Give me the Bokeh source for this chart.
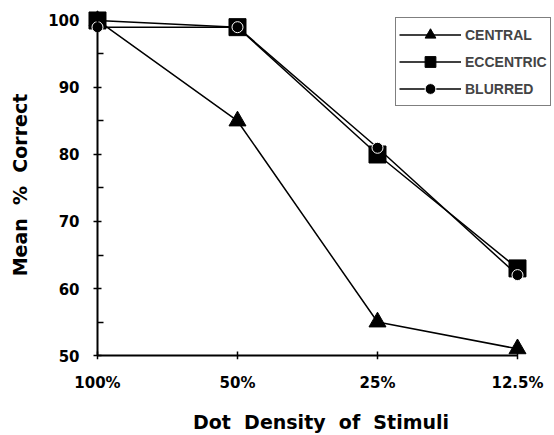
from bokeh.plotting import figure
from bokeh.models import FixedTicker, Range1d, Legend, LegendItem, LinearAxis
from bokeh.embed import file_html
from bokeh.resources import INLINE

categories = ["100%", "50%", "25%", "12.5%"]
central = [100, 85, 55, 51]
eccentric = [100, 99, 80, 63]
blurred = [99, 99, 81, 62]
y_ticks = [50, 60, 70, 80, 90, 100]
y_minor = [55, 65, 75, 85, 95]

xs = list(range(len(categories)))

p = figure(width=554, height=435, output_backend="svg", toolbar_location=None,
           x_range=Range1d(-0.0714, 3.2643), y_range=Range1d(49.405, 101.488),
           min_border_left=87, min_border_right=0, min_border_top=10, min_border_bottom=75)
p.outline_line_color = None
p.xgrid.visible = False
p.ygrid.visible = False

FONT = "DejaVu Sans"

# label-only axes on the frame edges
p.xaxis.ticker = FixedTicker(ticks=xs)
p.xaxis.major_label_overrides = {i: c for i, c in zip(xs, categories)}
p.yaxis.ticker = FixedTicker(ticks=y_ticks)
for ax in (p.xaxis[0], p.yaxis[0]):
    ax.axis_line_color = None
    ax.major_tick_line_color = None
    ax.minor_tick_line_color = None
    ax.major_tick_in = 0
    ax.major_tick_out = 0
    ax.minor_tick_in = 0
    ax.minor_tick_out = 0
    ax.major_label_text_font = FONT
    ax.major_label_text_font_style = "bold"
    ax.major_label_text_font_size = "15px"
    ax.major_label_text_color = "black"
    ax.axis_label_text_font = FONT
    ax.axis_label_text_font_style = "bold"
    ax.axis_label_text_font_size = "19px"
    ax.axis_label_text_color = "black"
p.xaxis.major_label_standoff = 14
p.yaxis.major_label_standoff = 8
p.xaxis.axis_label = "Dot\u00a0\u00a0Density\u00a0\u00a0of\u00a0\u00a0Stimuli"
p.yaxis.axis_label = "Mean\u00a0\u00a0%\u00a0\u00a0Correct"
p.xaxis.axis_label_standoff = 16
p.yaxis.axis_label_standoff = 14

# line/tick axes placed at the data origin
xa = LinearAxis(fixed_location=y_ticks[0], bounds=(xs[0], xs[-1]),
                ticker=FixedTicker(ticks=xs),
                major_label_overrides={i: "" for i in xs})
ya = LinearAxis(fixed_location=xs[0], bounds=(y_ticks[0], y_ticks[-1]),
                ticker=FixedTicker(ticks=y_ticks, minor_ticks=y_minor),
                major_label_overrides={t: "" for t in y_ticks})
for ax in (xa, ya):
    ax.axis_line_width = 2
    ax.axis_line_color = "black"
    ax.major_tick_line_color = "black"
    ax.major_tick_line_width = 1.5
    ax.major_tick_in = 4
    ax.major_tick_out = 4
    ax.major_label_text_font_size = "0px"
    ax.major_label_standoff = 0
xa.minor_tick_line_color = None
ya.minor_tick_line_color = "black"
ya.minor_tick_line_width = 1.5
ya.minor_tick_in = 6
ya.minor_tick_out = 0
p.add_layout(xa, "below")
p.add_layout(ya, "left")

lw = 1.5
l1 = p.line(xs, central, line_color="black", line_width=lw)
s1 = p.scatter(xs, central, marker="triangle", size=17, fill_color="black", line_color="black")
l2 = p.line(xs, eccentric, line_color="black", line_width=lw)
s2 = p.scatter(xs, eccentric, marker="square", size=17, fill_color="black", line_color="black")
l3 = p.line(xs, blurred, line_color="black", line_width=lw)
s3 = p.scatter(xs, blurred, marker="circle", size=11, fill_color="black", line_color="white", line_width=1)

legend = Legend(items=[
    LegendItem(label="CENTRAL", renderers=[l1, s1]),
    LegendItem(label="ECCENTRIC", renderers=[l2, s2]),
    LegendItem(label="BLURRED", renderers=[l3, s3]),
], location=(308, 253))
legend.margin = 0
legend.padding = 3
legend.spacing = 0
legend.glyph_width = 62
legend.glyph_height = 27
legend.label_height = 27
legend.label_standoff = 4
legend.label_text_font = "Liberation Sans"
legend.label_text_font_style = "bold"
legend.label_text_font_size = "14px"
legend.border_line_color = "black"
legend.border_line_width = 1.5
legend.background_fill_color = "white"
legend.background_fill_alpha = 1
p.add_layout(legend)

open("out.html", "w").write(file_html(p, INLINE))
